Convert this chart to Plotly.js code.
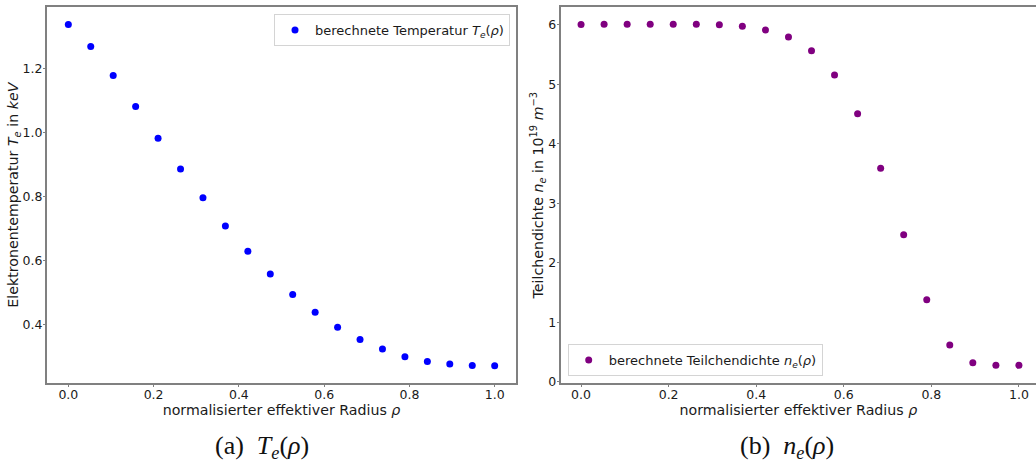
<!DOCTYPE html>
<html>
<head>
<meta charset="utf-8">
<script src="https://cdn.plot.ly/plotly-3.0.1.min.js"></script>
<style>html,body{margin:0;padding:0;overflow:hidden;background:#fff;}</style>
</head>
<body>
<div id="chart" style="width:1036px;height:465px;"></div>
<script>
// Radial positions (normalised effective radius rho)
const rho = [0.0, 0.0526, 0.1053, 0.1579, 0.2105, 0.2632, 0.3158, 0.3684, 0.4211, 0.4737,
             0.5263, 0.5789, 0.6316, 0.6842, 0.7368, 0.7895, 0.8421, 0.8947, 0.9474, 1.0];
// Electron temperature in keV
const temperature = [1.336, 1.268, 1.177, 1.080, 0.981, 0.885, 0.795, 0.707, 0.628, 0.557,
                     0.493, 0.438, 0.391, 0.353, 0.323, 0.299, 0.284, 0.276, 0.272, 0.271];
// Particle density in 1e19 m^-3
const density = [6.00, 6.005, 6.005, 6.005, 6.005, 6.005, 5.995, 5.97, 5.91, 5.79,
                 5.56, 5.155, 4.505, 3.59, 2.47, 1.38, 0.62, 0.324, 0.279, 0.279];

const W = 1036, H = 465;
const px = v => v / W;
const py = v => 1 - v / H;

const tickFont = {family: 'DejaVu Sans', size: 12.5, color: '#1a1a1a'};
const titleFont = {family: 'DejaVu Sans', size: 14.2, color: '#1a1a1a'};
const spine = '#808080';

function axisBase() {
  return {
    showline: true, linecolor: spine, linewidth: 2,
    ticks: 'outside', ticklen: 2, tickwidth: 1, tickcolor: spine,
    showgrid: false, zeroline: false, tickfont: tickFont, automargin: false
  };
}

const traces = [
  {x: rho, y: temperature, type: 'scatter', mode: 'markers',
   marker: {color: '#0000ff', size: 7},
   name: 'berechnete Temperatur <i>T<sub>e</sub></i>(<i>ρ</i>)',
   xaxis: 'x', yaxis: 'y', legend: 'legend'},
  {x: rho, y: density, type: 'scatter', mode: 'markers',
   marker: {color: '#800080', size: 7},
   name: 'berechnete Teilchendichte <i>n<sub>e</sub></i>(<i>ρ</i>)',
   xaxis: 'x2', yaxis: 'y2', legend: 'legend2'}
];

const layout = {
  width: W, height: H,
  margin: {l: 0, r: 0, t: 0, b: 0},
  paper_bgcolor: '#fff', plot_bgcolor: '#fff',
  showlegend: true,
  xaxis: Object.assign(axisBase(), {
    domain: [px(47), px(516)], range: [-0.05, 1.05], dtick: 0.2, tick0: 0,
    tickformat: '.1f', mirror: true, anchor: 'y', ticklabelstandoff: -3,
    title: {text: 'normalisierter effektiver Radius <i>ρ</i>', font: titleFont, standoff: 0}
  }),
  yaxis: Object.assign(axisBase(), {
    domain: [py(383), py(7.3)], range: [0.217, 1.39], dtick: 0.2, tick0: 0,
    tickformat: '.1f', mirror: true, anchor: 'x', ticklabelstandoff: -2,
    title: {text: 'Elektronentemperatur <i>T<sub>e</sub></i> in <i>keV</i>', font: titleFont, standoff: 1}
  }),
  xaxis2: Object.assign(axisBase(), {
    domain: [px(560.7), 1], range: [-0.0465, 1.039], dtick: 0.2, tick0: 0,
    tickformat: '.1f', mirror: true, anchor: 'y2', ticklabelstandoff: -3,
    title: {text: 'normalisierter effektiver Radius <i>ρ</i>', font: titleFont, standoff: 0}
  }),
  yaxis2: Object.assign(axisBase(), {
    domain: [py(383), py(7.3)], range: [-0.017, 6.29], dtick: 1, tick0: 0,
    tickformat: 'd', mirror: false, anchor: 'x2', ticklabelstandoff: -2,
    title: {text: 'Teilchendichte <i>n<sub>e</sub></i> in 10<sup>19</sup> <i>m</i><sup>−3</sup>', font: titleFont, standoff: 1}
  }),
  legend: {
    x: px(510), y: py(14), xanchor: 'right', yanchor: 'top',
    bgcolor: '#fff', bordercolor: '#d4d4d4', borderwidth: 1,
    font: {family: 'DejaVu Sans', size: 13, color: '#1a1a1a'}
  },
  legend2: {
    x: px(567.7), y: py(376), xanchor: 'left', yanchor: 'bottom',
    bgcolor: '#fff', bordercolor: '#d4d4d4', borderwidth: 1,
    font: {family: 'DejaVu Sans', size: 13, color: '#1a1a1a'}
  },
  annotations: [
    {text: '(a)  <i>T<sub>e</sub></i>(<i>ρ</i>)', x: px(262), y: py(447), xref: 'paper', yref: 'paper',
     xanchor: 'center', yanchor: 'middle', showarrow: false,
     font: {family: 'Liberation Serif', size: 26, color: '#111'}},
    {text: '(b)  <i>n<sub>e</sub></i>(<i>ρ</i>)', x: px(787), y: py(447), xref: 'paper', yref: 'paper',
     xanchor: 'center', yanchor: 'middle', showarrow: false,
     font: {family: 'Liberation Serif', size: 26, color: '#111'}}
  ]
};

Plotly.newPlot('chart', traces, layout, {displayModeBar: false, staticPlot: true});
</script>
</body>
</html>
